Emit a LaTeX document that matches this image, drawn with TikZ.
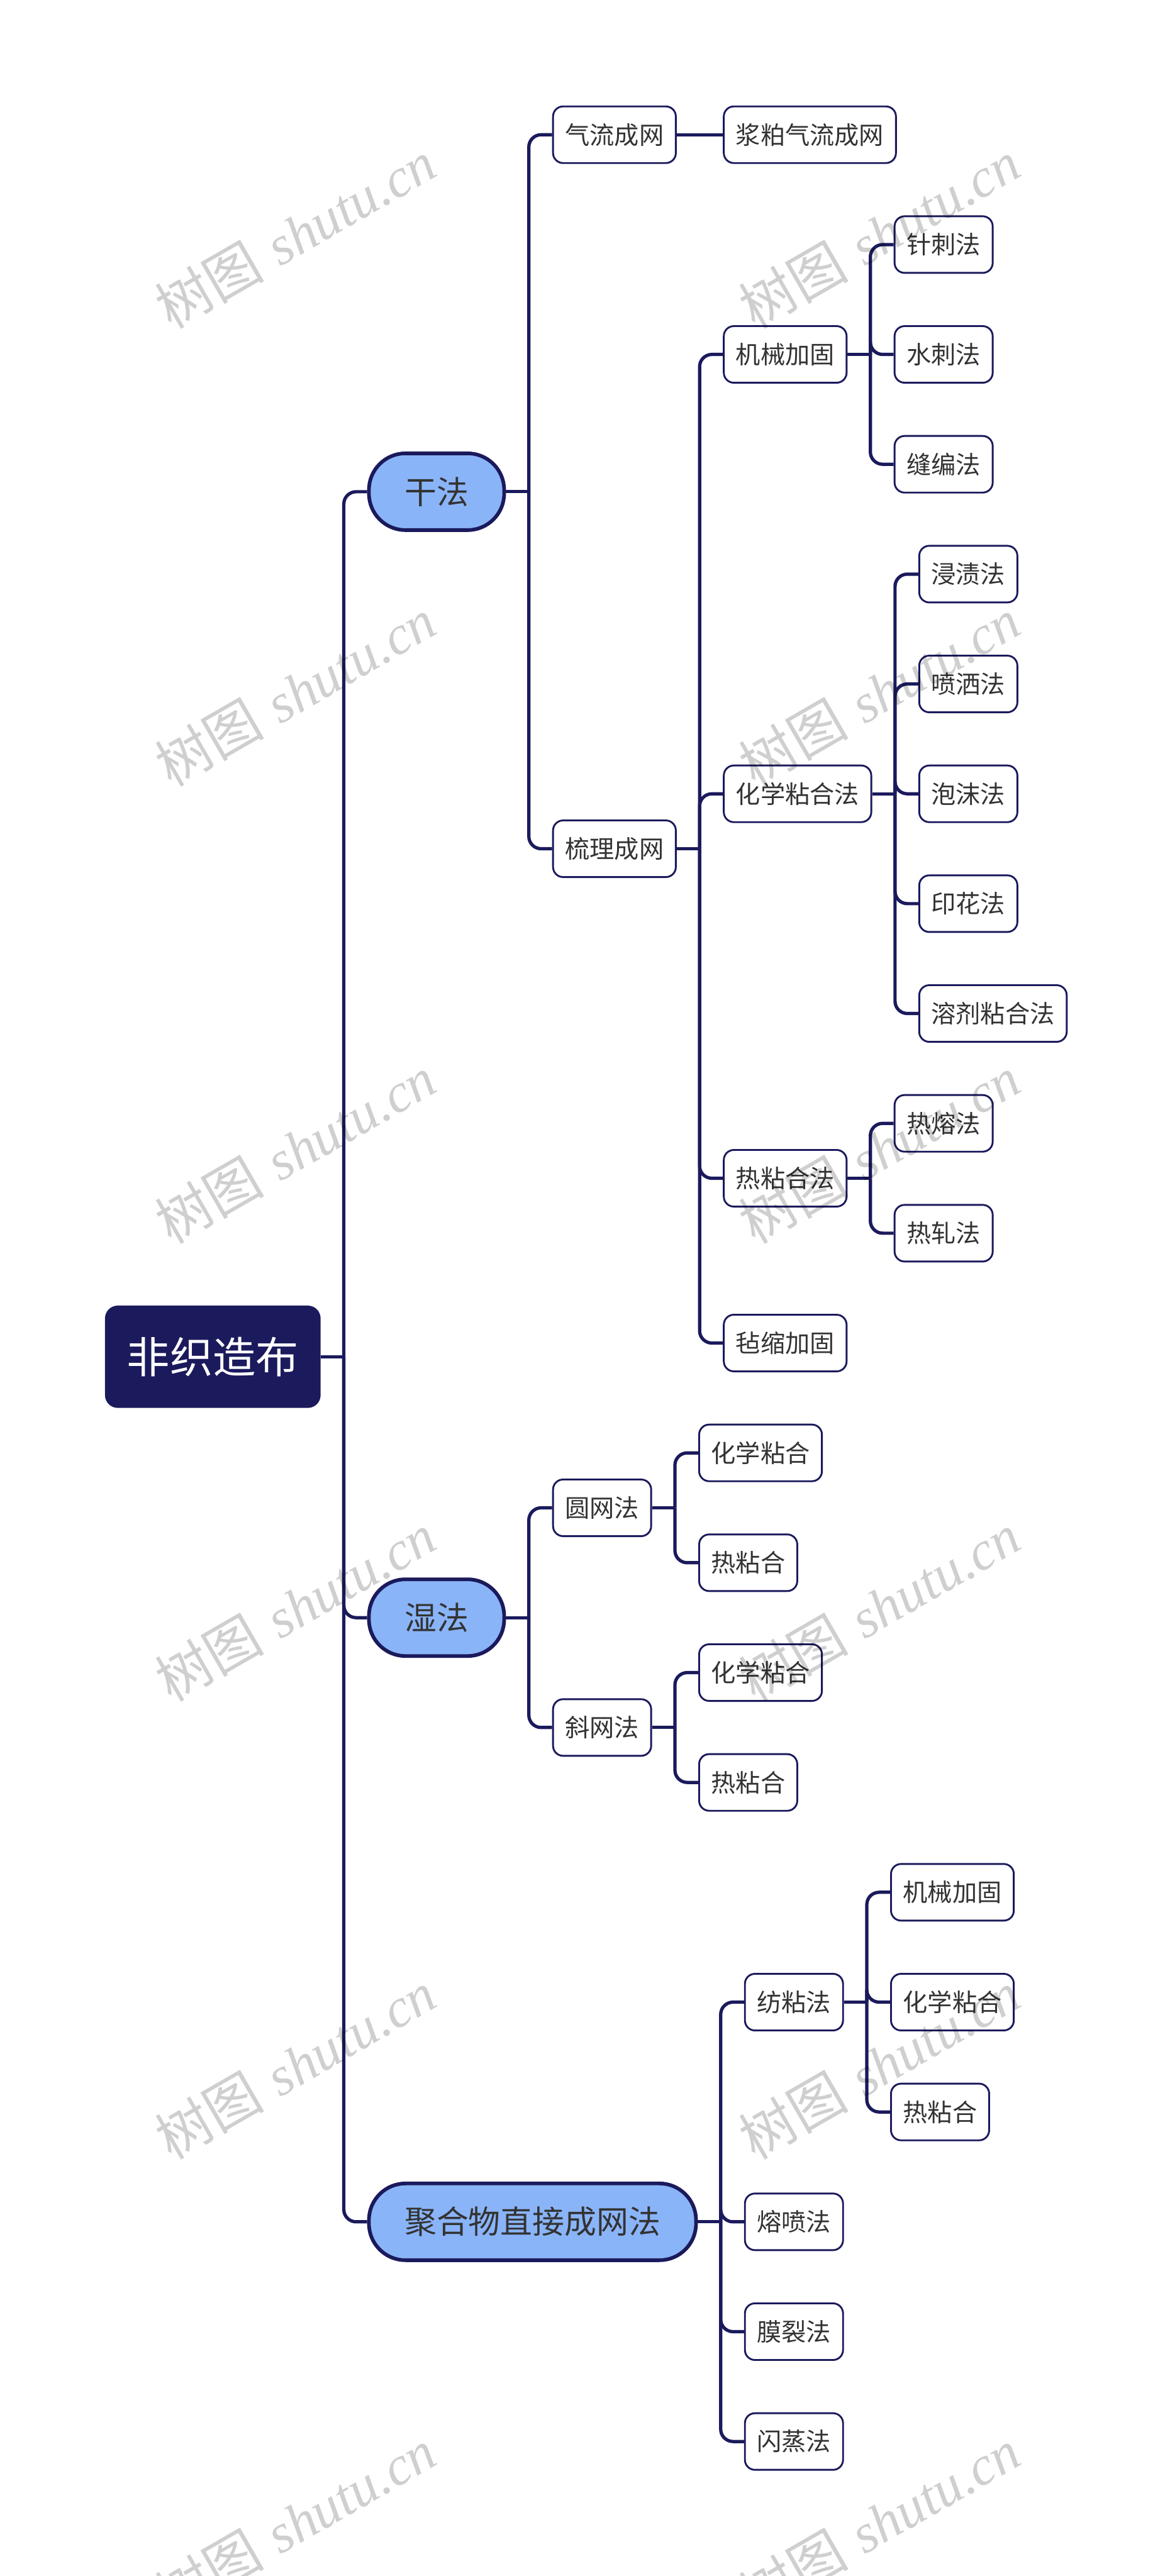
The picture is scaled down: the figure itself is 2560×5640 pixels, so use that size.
\documentclass[tikz,border=0pt]{standalone}
\usepackage{fontspec}
\setmainfont{Noto Sans CJK SC}
\newfontfamily\wmlatin{Liberation Serif}
\usetikzlibrary{calc,backgrounds}
\definecolor{navy}{HTML}{1B1A5C}
\definecolor{lblue}{HTML}{8AB4F8}
\definecolor{txt}{HTML}{333333}
\begin{document}
\begin{tikzpicture}[x=0.25pt,y=-0.25pt,
  leaf/.style={draw=navy, line width=1pt, fill=white, rounded corners=5.5pt, minimum height=31pt, inner xsep=6.6pt, inner ysep=0pt, text=txt, font=\fontsize{13.5pt}{16pt}\selectfont, anchor=west, xshift=12.75pt},
  lone/.style={draw=navy, line width=2pt, fill=lblue, rounded corners=20pt, minimum height=42pt, inner xsep=19.5pt, inner ysep=0pt, text=txt, font=\fontsize{17.5pt}{20pt}\selectfont, anchor=west, xshift=12.75pt},
  rootbox/.style={fill=navy, rounded corners=7pt, minimum height=56pt, inner xsep=12pt, inner ysep=0pt, text=white, font=\fontsize{23.5pt}{28pt}\selectfont, anchor=west},
  conn/.style={draw=navy, line width=1.8pt},
  elbow/.style={conn, rounded corners=6.75pt},
  wm/.style={rotate=30, text=black, text opacity=0.19, font=\fontsize{30pt}{36pt}\selectfont}
]
\useasboundingbox (0,0) rectangle (2560,5640);

% root and level 1
\node[rootbox] (root) at (229,2970.5) {非织造布};
\coordinate (rJ) at ($(root.east)+(50,0)$);
\node[lone] (gan) at (rJ |- 0,1076.6) {干法};
\node[lone] (shi) at (rJ |- 0,3541.75) {湿法};
\node[lone] (jh) at (rJ |- 0,4864.5) {聚合物直接成网法};

% 干法
\coordinate (ganJ) at ($(gan.east)+(50,0)$);
\node[leaf] (qlcw) at (ganJ |- 0,295) {气流成网};
\node[leaf] (slcw) at (ganJ |- 0,1858.25) {梳理成网};
\coordinate (qlJ) at ($(qlcw.east)+(50,0)$);
\node[leaf] (jpql) at (qlJ |- 0,295) {浆粕气流成网};

\coordinate (slJ) at ($(slcw.east)+(50,0)$);
\node[leaf] (jxjg) at (slJ |- 0,776) {机械加固};
\node[leaf] (hxnh) at (slJ |- 0,1738) {化学粘合法};
\node[leaf] (rnh) at (slJ |- 0,2579.75) {热粘合法};
\node[leaf] (zsjg) at (slJ |- 0,2940.5) {毡缩加固};

\coordinate (jxJ) at ($(jxjg.east)+(50,0)$);
\node[leaf] (zc) at (jxJ |- 0,535.5) {针刺法};
\node[leaf] (sc) at (jxJ |- 0,776) {水刺法};
\node[leaf] (fb) at (jxJ |- 0,1016.5) {缝编法};

\coordinate (hxJ) at ($(hxnh.east)+(50,0)$);
\node[leaf] (jz) at (hxJ |- 0,1257) {浸渍法};
\node[leaf] (ps) at (hxJ |- 0,1497.5) {喷洒法};
\node[leaf] (pm) at (hxJ |- 0,1738) {泡沫法};
\node[leaf] (yh) at (hxJ |- 0,1978.5) {印花法};
\node[leaf] (rjnh) at (hxJ |- 0,2219) {溶剂粘合法};

\coordinate (rnJ) at ($(rnh.east)+(50,0)$);
\node[leaf] (rr) at (rnJ |- 0,2459.5) {热熔法};
\node[leaf] (rz) at (rnJ |- 0,2700) {热轧法};

% 湿法
\coordinate (shiJ) at ($(shi.east)+(50,0)$);
\node[leaf] (ywf) at (shiJ |- 0,3301.25) {圆网法};
\node[leaf] (xwf) at (shiJ |- 0,3782.25) {斜网法};
\coordinate (ywJ) at ($(ywf.east)+(50,0)$);
\node[leaf] (yw1) at (ywJ |- 0,3181) {化学粘合};
\node[leaf] (yw2) at (ywJ |- 0,3421.5) {热粘合};
\coordinate (xwJ) at ($(xwf.east)+(50,0)$);
\node[leaf] (xw1) at (xwJ |- 0,3662) {化学粘合};
\node[leaf] (xw2) at (xwJ |- 0,3902.5) {热粘合};

% 聚合物直接成网法
\coordinate (jhJ) at ($(jh.east)+(50,0)$);
\node[leaf] (fnf) at (jhJ |- 0,4383.5) {纺粘法};
\node[leaf] (rpf) at (jhJ |- 0,4864.5) {熔喷法};
\node[leaf] (mlf) at (jhJ |- 0,5105) {膜裂法};
\node[leaf] (szf) at (jhJ |- 0,5345.5) {闪蒸法};
\coordinate (fnJ) at ($(fnf.east)+(50,0)$);
\node[leaf] (fn1) at (fnJ |- 0,4143) {机械加固};
\node[leaf] (fn2) at (fnJ |- 0,4383.5) {化学粘合};
\node[leaf] (fn3) at (fnJ |- 0,4624) {热粘合};

% connectors
\begin{scope}[on background layer]
\fill[white] (0,0) rectangle (2560,5640);
\draw[conn] (root.east) -- (rJ);
\foreach \c in {gan,shi,jh} \draw[elbow] (rJ) |- (\c.west);
\draw[conn] (gan.east) -- (ganJ);
\foreach \c in {qlcw,slcw} \draw[elbow] (ganJ) |- (\c.west);
\draw[conn] (qlcw.east) -- (jpql.west);
\draw[conn] (slcw.east) -- (slJ);
\foreach \c in {jxjg,hxnh,rnh,zsjg} \draw[elbow] (slJ) |- (\c.west);
\draw[conn] (jxjg.east) -- (jxJ);
\foreach \c in {zc,sc,fb} \draw[elbow] (jxJ) |- (\c.west);
\draw[conn] (hxnh.east) -- (hxJ);
\foreach \c in {jz,ps,pm,yh,rjnh} \draw[elbow] (hxJ) |- (\c.west);
\draw[conn] (rnh.east) -- (rnJ);
\foreach \c in {rr,rz} \draw[elbow] (rnJ) |- (\c.west);
\draw[conn] (shi.east) -- (shiJ);
\foreach \c in {ywf,xwf} \draw[elbow] (shiJ) |- (\c.west);
\draw[conn] (ywf.east) -- (ywJ);
\foreach \c in {yw1,yw2} \draw[elbow] (ywJ) |- (\c.west);
\draw[conn] (xwf.east) -- (xwJ);
\foreach \c in {xw1,xw2} \draw[elbow] (xwJ) |- (\c.west);
\draw[conn] (jh.east) -- (jhJ);
\foreach \c in {fnf,rpf,mlf,szf} \draw[elbow] (jhJ) |- (\c.west);
\draw[conn] (fnf.east) -- (fnJ);
\foreach \c in {fn1,fn2,fn3} \draw[elbow] (fnJ) |- (\c.west);
\end{scope}

% watermarks
\foreach \yy in {513,1515,2517,3519,4521,5523} {
  \node[wm] (wmL\yy) at (646,\yy) {树图\hspace{0.3em}{\wmlatin\itshape shutu.cn}};
  \node[wm] (wmR\yy) at (1925,\yy) {树图\hspace{0.3em}{\wmlatin\itshape shutu.cn}};
}
\end{tikzpicture}
\end{document}
